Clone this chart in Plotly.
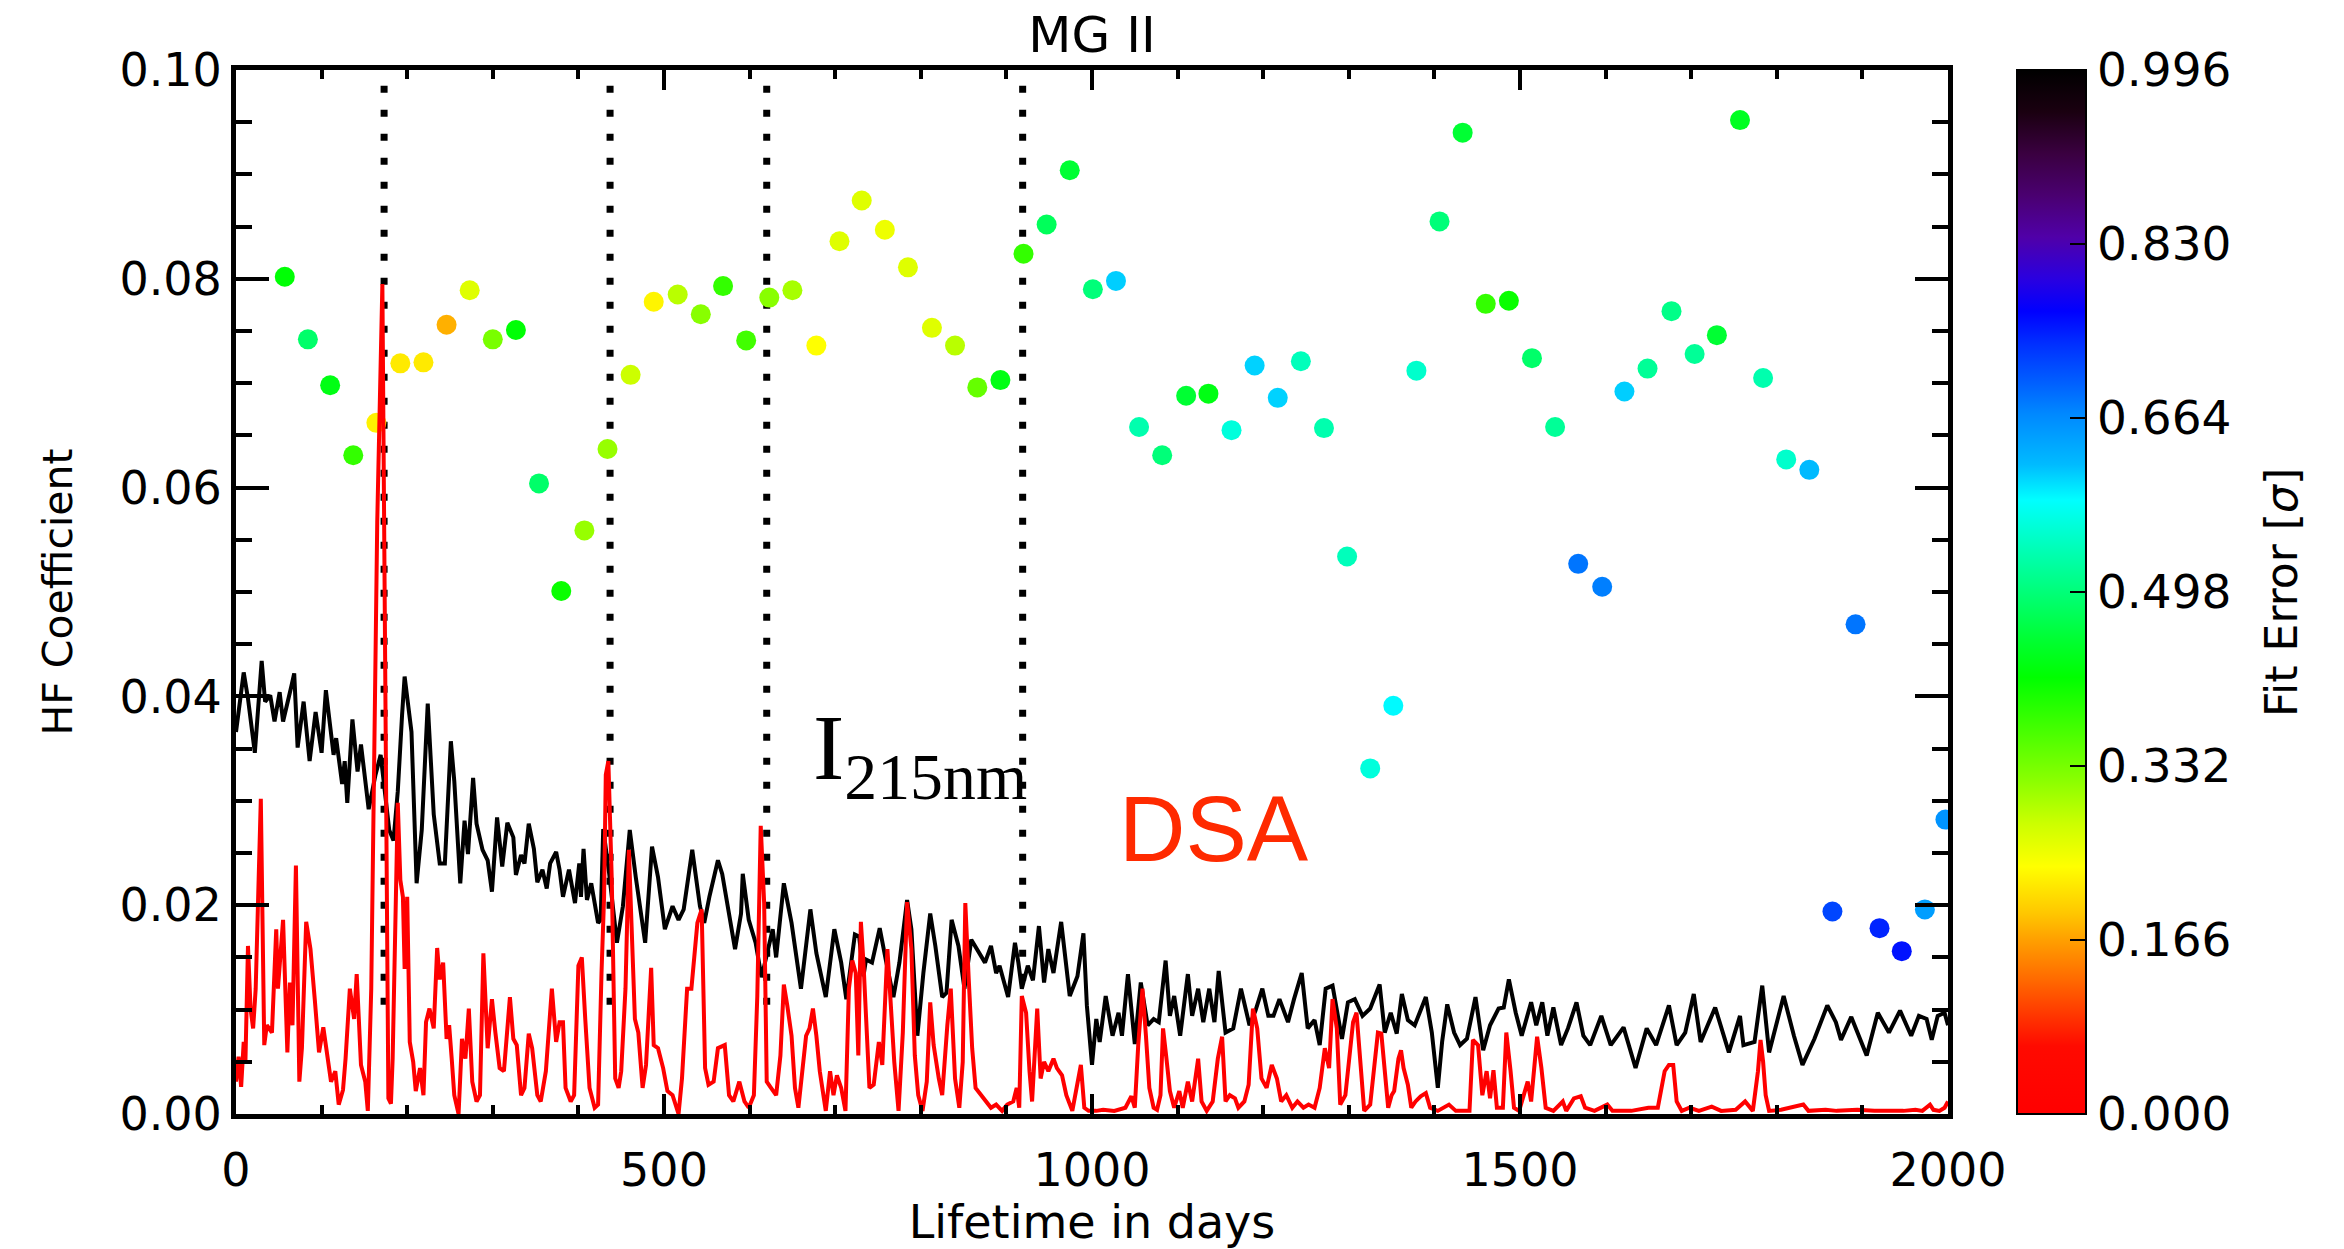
import plotly.graph_objects as go

# ---------------------------------------------------------------------------
# MG II high-frequency coefficient per solar rotation, coloured by fit error
# ---------------------------------------------------------------------------
fit_days = [57, 84, 110, 137, 164, 192, 219, 246, 273, 300, 327, 354, 380, 407,
            434, 461, 488, 516, 543, 569, 596, 623, 650, 678, 705, 731, 758, 785,
            813, 840, 866, 893, 920, 947, 974, 1001, 1028, 1055, 1082, 1110, 1136,
            1163, 1190, 1217, 1244, 1271, 1298, 1325, 1352, 1379, 1406, 1433, 1460,
            1487, 1514, 1541, 1568, 1596, 1622, 1649, 1677, 1704, 1730, 1757, 1784,
            1811, 1838, 1865, 1892, 1920, 1946, 1973, 1997]
fit_hf = [0.0802, 0.0742, 0.0698, 0.0631, 0.0662, 0.0719, 0.0720, 0.0756, 0.0789,
          0.0742, 0.0751, 0.0604, 0.0501, 0.0559, 0.0637, 0.0708, 0.0778, 0.0785,
          0.0766, 0.0793, 0.0741, 0.0782, 0.0789, 0.0736, 0.0836, 0.0875, 0.0847,
          0.0811, 0.0753, 0.0736, 0.0696, 0.0703, 0.0824, 0.0852, 0.0904, 0.0790,
          0.0798, 0.0658, 0.0631, 0.0688, 0.0690, 0.0655, 0.0717, 0.0686, 0.0721,
          0.0657, 0.0534, 0.0331, 0.0391, 0.0712, 0.0855, 0.0940, 0.0776, 0.0779,
          0.0724, 0.0658, 0.0527, 0.0505, 0.0692, 0.0714, 0.0769, 0.0728, 0.0746,
          0.0952, 0.0705, 0.0627, 0.0617, 0.0194, 0.0469, 0.0178, 0.0156, 0.0196,
          0.0282]
fit_err = [0.420, 0.488, 0.430, 0.380, 0.226, 0.219, 0.219, 0.177, 0.262, 0.330,
           0.420, 0.488, 0.410, 0.310, 0.310, 0.277, 0.228, 0.289, 0.320, 0.380,
           0.370, 0.320, 0.300, 0.236, 0.262, 0.262, 0.250, 0.262, 0.262, 0.289,
           0.344, 0.430, 0.380, 0.478, 0.453, 0.498, 0.610, 0.533, 0.498, 0.453,
           0.430, 0.563, 0.608, 0.608, 0.542, 0.533, 0.542, 0.563, 0.588, 0.553,
           0.498, 0.453, 0.380, 0.410, 0.488, 0.518, 0.682, 0.675, 0.610, 0.518,
           0.508, 0.518, 0.453, 0.440, 0.533, 0.553, 0.620, 0.717, 0.682, 0.742,
           0.754, 0.647, 0.657]

# I(215 nm) proxy, HF coefficient versus lifetime
i215_days = [0, 9, 14, 22, 30, 34, 40, 45, 51, 55, 65, 68, 72, 79, 86, 93, 100, 105,
             114, 117, 124, 127, 130, 136, 142, 146, 155, 163, 169, 179, 184, 189,
             194, 197, 205, 211, 217, 224, 231, 238, 244, 248, 251, 255, 262, 267,
             271, 277, 281, 288, 294, 299, 305, 311, 317, 324, 327, 333, 337, 342,
             348, 352, 358, 363, 367, 374, 378, 382, 389, 396, 401, 403, 406, 410,
             415, 423, 426, 429, 436, 445, 452, 460, 467, 478, 486, 493, 501, 510,
             517, 523, 533, 542, 547, 553, 563, 568, 583, 590, 592, 599, 607, 614,
             627, 631, 640, 649, 660, 671, 678, 689, 699, 707, 713, 723, 728, 733,
             736, 743, 752, 759, 768, 775, 784, 789, 796, 803, 811, 817, 825, 830,
             836, 844, 851, 859, 869, 875, 882, 888, 892, 902, 910, 914, 918, 925,
             931, 938, 944, 949, 955, 964, 974, 983, 990, 994, 1000, 1005, 1009,
             1016, 1024, 1031, 1035, 1042, 1050, 1057, 1065, 1072, 1078, 1086, 1091,
             1096, 1103, 1112, 1117, 1124, 1130, 1137, 1143, 1148, 1156, 1165, 1174,
             1184, 1191, 1199, 1206, 1212, 1219, 1229, 1236, 1245, 1252, 1260, 1266,
             1273, 1281, 1292, 1299, 1307, 1316, 1325, 1336, 1342, 1349, 1356, 1362,
             1369, 1377, 1390, 1397, 1404, 1409, 1415, 1423, 1430, 1438, 1448, 1457,
             1465, 1475, 1481, 1487, 1495, 1502, 1513, 1519, 1526, 1532, 1539, 1548,
             1556, 1566, 1574, 1582, 1595, 1606, 1621, 1635, 1648, 1659, 1674, 1683,
             1693, 1703, 1711, 1728, 1744, 1757, 1761, 1774, 1783, 1791, 1808, 1820,
             1830, 1844, 1859, 1869, 1875, 1887, 1905, 1918, 1931, 1944, 1957, 1966,
             1975, 1981, 1988, 1996, 2000]
i215_hf = [0.0366, 0.0423, 0.0398, 0.0346, 0.0434, 0.0395, 0.0401, 0.0376, 0.0404,
           0.0376, 0.0411, 0.0422, 0.0351, 0.0395, 0.0338, 0.0385, 0.0346, 0.0406,
           0.0344, 0.0360, 0.0316, 0.0338, 0.0298, 0.0378, 0.0328, 0.0354, 0.0292,
           0.0325, 0.0344, 0.0272, 0.0262, 0.0309, 0.0382, 0.0419, 0.0366, 0.0221,
           0.0272, 0.0393, 0.0287, 0.0240, 0.0240, 0.0319, 0.0357, 0.0319, 0.0221,
           0.0281, 0.0249, 0.0322, 0.0278, 0.0253, 0.0243, 0.0213, 0.0284, 0.0237,
           0.0279, 0.0265, 0.0229, 0.0248, 0.0240, 0.0278, 0.0254, 0.0222, 0.0234,
           0.0216, 0.0240, 0.0251, 0.0234, 0.0208, 0.0234, 0.0202, 0.0240, 0.0208,
           0.0254, 0.0205, 0.0221, 0.0183, 0.0186, 0.0273, 0.0230, 0.0164, 0.0199,
           0.0272, 0.0227, 0.0164, 0.0256, 0.0227, 0.0177, 0.0199, 0.0186, 0.0196,
           0.0253, 0.0199, 0.0183, 0.0208, 0.0243, 0.0230, 0.0158, 0.0192, 0.0230,
           0.0186, 0.0164, 0.0131, 0.0177, 0.0150, 0.0221, 0.0183, 0.0120, 0.0196,
           0.0154, 0.0112, 0.0177, 0.0145, 0.0110, 0.0172, 0.0170, 0.0132, 0.0148,
           0.0145, 0.0178, 0.0148, 0.0112, 0.0145, 0.0205, 0.0177, 0.0075, 0.0135,
           0.0192, 0.0161, 0.0112, 0.0116, 0.0186, 0.0161, 0.0120, 0.0167, 0.0154,
           0.0145, 0.0161, 0.0135, 0.0142, 0.0112, 0.0164, 0.0145, 0.0120, 0.0142,
           0.0128, 0.0180, 0.0126, 0.0158, 0.0135, 0.0184, 0.0113, 0.0132, 0.0173,
           0.0104, 0.0047, 0.0091, 0.0069, 0.0113, 0.0075, 0.0097, 0.0075, 0.0134,
           0.0067, 0.0126, 0.0085, 0.0091, 0.0088, 0.0147, 0.0094, 0.0113, 0.0075,
           0.0134, 0.0094, 0.0120, 0.0088, 0.0120, 0.0088, 0.0137, 0.0078, 0.0082,
           0.0120, 0.0085, 0.0099, 0.0120, 0.0094, 0.0094, 0.0110, 0.0088, 0.0110,
           0.0135, 0.0082, 0.0090, 0.0066, 0.0120, 0.0123, 0.0072, 0.0107, 0.0110,
           0.0094, 0.0101, 0.0124, 0.0078, 0.0097, 0.0077, 0.0115, 0.0090, 0.0085,
           0.0112, 0.0078, 0.0025, 0.0069, 0.0105, 0.0078, 0.0066, 0.0072, 0.0112,
           0.0061, 0.0085, 0.0101, 0.0102, 0.0129, 0.0097, 0.0075, 0.0107, 0.0085,
           0.0107, 0.0075, 0.0102, 0.0066, 0.0082, 0.0107, 0.0075, 0.0066, 0.0094,
           0.0066, 0.0083, 0.0044, 0.0082, 0.0066, 0.0104, 0.0066, 0.0078, 0.0115,
           0.0069, 0.0102, 0.0059, 0.0094, 0.0066, 0.0069, 0.0123, 0.0059, 0.0113,
           0.0075, 0.0047, 0.0072, 0.0104, 0.0088, 0.0071, 0.0093, 0.0056, 0.0097,
           0.0078, 0.0099, 0.0075, 0.0094, 0.0091, 0.0071, 0.0094, 0.0097, 0.0085]

# DSA, HF coefficient versus lifetime
dsa_days = [0, 3, 6, 9, 11, 14, 17, 20, 23, 29, 33, 36, 42, 47, 49, 55, 60, 63, 66,
            70, 74, 77, 82, 87, 92, 97, 102, 107, 111, 116, 120, 125, 128, 133, 138,
            141, 146, 151, 154, 158, 161, 165, 171, 174, 176, 178, 181, 183, 189,
            192, 195, 197, 200, 203, 207, 210, 215, 219, 222, 226, 231, 235, 238,
            242, 246, 249, 252, 255, 260, 264, 268, 272, 276, 281, 285, 289, 294,
            299, 303, 308, 313, 320, 324, 328, 333, 337, 342, 346, 352, 356, 362,
            369, 374, 378, 382, 385, 391, 395, 400, 404, 408, 413, 419, 423, 427,
            430, 432, 435, 439, 443, 447, 450, 455, 459, 462, 466, 470, 475, 479,
            485, 488, 493, 499, 504, 510, 517, 521, 527, 532, 535, 539, 544, 548,
            552, 558, 563, 571, 576, 581, 588, 594, 599, 605, 609, 613, 617, 620,
            625, 631, 636, 640, 644, 649, 653, 657, 666, 670, 674, 678, 682, 686,
            689, 694, 698, 702, 707, 712, 716, 720, 724, 727, 730, 733, 737, 740,
            745, 751, 755, 761, 765, 769, 774, 779, 784, 789, 793, 797, 802, 807,
            811, 815, 821, 825, 831, 835, 840, 845, 849, 852, 856, 860, 864, 871,
            877, 882, 888, 895, 901, 908, 912, 915, 918, 923, 927, 930, 936, 940,
            944, 949, 955, 959, 965, 970, 977, 982, 987, 991, 996, 1005, 1013,
            1026, 1039, 1046, 1050, 1054, 1059, 1063, 1067, 1072, 1076, 1080, 1083,
            1087, 1091, 1096, 1102, 1106, 1112, 1117, 1124, 1128, 1134, 1141, 1147,
            1152, 1156, 1161, 1167, 1171, 1178, 1183, 1188, 1193, 1198, 1204, 1210,
            1216, 1221, 1227, 1234, 1240, 1247, 1253, 1260, 1266, 1272, 1277, 1281,
            1286, 1290, 1296, 1301, 1305, 1309, 1314, 1318, 1325, 1330, 1334, 1338,
            1342, 1346, 1350, 1353, 1358, 1361, 1364, 1369, 1373, 1378, 1384, 1390,
            1395, 1404, 1417, 1425, 1441, 1445, 1451, 1456, 1461, 1465, 1469, 1473,
            1480, 1484, 1489, 1493, 1499, 1505, 1509, 1513, 1520, 1525, 1530, 1539,
            1550, 1554, 1563, 1571, 1576, 1587, 1602, 1608, 1630, 1650, 1661, 1669,
            1674, 1679, 1683, 1689, 1698, 1709, 1724, 1735, 1752, 1763, 1772, 1778,
            1781, 1784, 1787, 1791, 1805, 1831, 1837, 1857, 1870, 1894, 1914, 1948,
            1962, 1970, 1979, 1983, 1990, 1996, 2000]
dsa_hf = [0.0031, 0.0055, 0.0026, 0.0069, 0.0050, 0.0161, 0.0101, 0.0082, 0.0120,
          0.0302, 0.0066, 0.0085, 0.0078, 0.0177, 0.0120, 0.0186, 0.0059, 0.0126,
          0.0085, 0.0238, 0.0031, 0.0063, 0.0184, 0.0158, 0.0110, 0.0059, 0.0083,
          0.0050, 0.0031, 0.0041, 0.0009, 0.0023, 0.0053, 0.0120, 0.0091, 0.0134,
          0.0047, 0.0031, 0.0003, 0.0120, 0.0300, 0.0567, 0.0795, 0.0450, 0.0120,
          0.0015, 0.0010, 0.0053, 0.0298, 0.0224, 0.0208, 0.0139, 0.0208, 0.0069,
          0.0050, 0.0022, 0.0044, 0.0018, 0.0088, 0.0101, 0.0082, 0.0159, 0.0129,
          0.0145, 0.0072, 0.0085, 0.0053, 0.0018, 0.0000, 0.0072, 0.0053, 0.0101,
          0.0031, 0.0012, 0.0018, 0.0154, 0.0063, 0.0110, 0.0078, 0.0044, 0.0041,
          0.0112, 0.0072, 0.0066, 0.0018, 0.0025, 0.0077, 0.0063, 0.0018, 0.0012,
          0.0041, 0.0120, 0.0069, 0.0088, 0.0088, 0.0025, 0.0012, 0.0018, 0.0142,
          0.0150, 0.0091, 0.0025, 0.0006, 0.0009, 0.0135, 0.0208, 0.0325, 0.0338,
          0.0224, 0.0034, 0.0025, 0.0041, 0.0120, 0.0253, 0.0183, 0.0091, 0.0078,
          0.0025, 0.0047, 0.0140, 0.0066, 0.0063, 0.0044, 0.0022, 0.0018, 0.0000,
          0.0034, 0.0120, 0.0120, 0.0151, 0.0183, 0.0196, 0.0044, 0.0028, 0.0031,
          0.0063, 0.0066, 0.0018, 0.0012, 0.0031, 0.0012, 0.0006, 0.0018, 0.0113,
          0.0276, 0.0202, 0.0031, 0.0025, 0.0018, 0.0056, 0.0124, 0.0104, 0.0075,
          0.0025, 0.0006, 0.0075, 0.0082, 0.0101, 0.0075, 0.0041, 0.0015, 0.0003,
          0.0041, 0.0018, 0.0037, 0.0025, 0.0003, 0.0120, 0.0147, 0.0135, 0.0056,
          0.0184, 0.0145, 0.0069, 0.0025, 0.0028, 0.0069, 0.0047, 0.0158, 0.0104,
          0.0050, 0.0003, 0.0078, 0.0203, 0.0158, 0.0056, 0.0018, 0.0003, 0.0031,
          0.0107, 0.0066, 0.0034, 0.0018, 0.0085, 0.0120, 0.0034, 0.0006, 0.0050,
          0.0202, 0.0129, 0.0063, 0.0025, 0.0018, 0.0012, 0.0006, 0.0009, 0.0003,
          0.0009, 0.0012, 0.0025, 0.0006, 0.0113, 0.0097, 0.0041, 0.0012, 0.0101,
          0.0034, 0.0050, 0.0041, 0.0053, 0.0044, 0.0037, 0.0018, 0.0003, 0.0025,
          0.0047, 0.0006, 0.0003, 0.0003, 0.0004, 0.0003, 0.0006, 0.0017, 0.0006,
          0.0066, 0.0120, 0.0075, 0.0025, 0.0006, 0.0004, 0.0018, 0.0082, 0.0053,
          0.0022, 0.0006, 0.0022, 0.0006, 0.0031, 0.0012, 0.0053, 0.0012, 0.0003,
          0.0012, 0.0053, 0.0074, 0.0012, 0.0018, 0.0015, 0.0006, 0.0012, 0.0028,
          0.0101, 0.0082, 0.0034, 0.0025, 0.0047, 0.0034, 0.0012, 0.0018, 0.0006,
          0.0012, 0.0006, 0.0009, 0.0006, 0.0025, 0.0063, 0.0044, 0.0110, 0.0082,
          0.0009, 0.0018, 0.0056, 0.0088, 0.0097, 0.0050, 0.0003, 0.0009, 0.0050,
          0.0078, 0.0077, 0.0041, 0.0006, 0.0018, 0.0022, 0.0053, 0.0061, 0.0044,
          0.0028, 0.0006, 0.0012, 0.0017, 0.0020, 0.0006, 0.0003, 0.0009, 0.0003,
          0.0003, 0.0071, 0.0066, 0.0018, 0.0041, 0.0015, 0.0042, 0.0006, 0.0006,
          0.0078, 0.0041, 0.0006, 0.0003, 0.0018, 0.0031, 0.0012, 0.0074, 0.0044,
          0.0006, 0.0003, 0.0012, 0.0003, 0.0015, 0.0017, 0.0006, 0.0003, 0.0009,
          0.0003, 0.0003, 0.0006, 0.0006, 0.0041, 0.0047, 0.0047, 0.0012, 0.0003,
          0.0006, 0.0003, 0.0007, 0.0003, 0.0004, 0.0012, 0.0003, 0.0041, 0.0071,
          0.0050, 0.0018, 0.0003, 0.0004, 0.0009, 0.0003, 0.0004, 0.0003, 0.0004,
          0.0003, 0.0003, 0.0004, 0.0003, 0.0009, 0.0004, 0.0003, 0.0006, 0.0012]

# Reference epochs marked by dotted verticals
event_days = [173, 437, 620, 919]
event_hf_top = [0.0985, 0.0985, 0.0985, 0.0985]
event_hf_bottom = [0.0094, 0.0094, 0.0094, 0.0117]

# Colour bar ticks (labelled) and the half-steps between them
err_ticks = [0.000, 0.166, 0.332, 0.498, 0.664, 0.830, 0.996]
err_minor = [0.083, 0.249, 0.415, 0.581, 0.747, 0.913]
ERR_MAX = 0.996

FONT = "DejaVu Sans"
TXT = dict(family=FONT, color="black")

# reversed rainbow: red -> yellow -> green -> cyan -> blue -> purple -> black
rainbow_r = [
    [0.000, "#ff0000"], [0.065, "#ff0a00"], [0.097, "#ff3a00"],
    [0.129, "#ff6a00"], [0.167, "#ffa000"], [0.193, "#ffc800"],
    [0.237, "#ffff00"], [0.278, "#ccff00"], [0.321, "#88ff00"],
    [0.369, "#44ff00"], [0.418, "#00ff00"], [0.455, "#00ff33"],
    [0.499, "#00ff77"], [0.544, "#00ffbb"], [0.588, "#00ffff"],
    [0.622, "#00bbff"], [0.671, "#0088ff"], [0.700, "#0060ff"],
    [0.737, "#0030ff"], [0.769, "#0000ff"], [0.800, "#2a00e0"],
    [0.840, "#5000a8"], [0.880, "#4a0070"], [0.920, "#3a0040"],
    [0.960, "#1a0010"], [1.000, "#000000"],
]

# colour bar geometry (paper units of the plot area)
CB_X = 1.0403
CB_THICK = 69
PLOT_W = 1712

fig = go.Figure()

for d, top, bot in zip(event_days, event_hf_top, event_hf_bottom):
    fig.add_trace(go.Scatter(
        x=[d, d], y=[top, bot], mode="lines",
        line=dict(color="black", width=7, dash="7px,17px"),
        hoverinfo="skip", showlegend=False))

fig.add_trace(go.Scatter(
    x=fit_days, y=fit_hf, mode="markers",
    marker=dict(
        size=20, color=fit_err, cmin=0.0, cmax=ERR_MAX,
        colorscale=rainbow_r, line=dict(width=0),
        colorbar=dict(
            x=CB_X, xanchor="left", y=0.5, yanchor="middle",
            len=1.0, lenmode="fraction", thickness=CB_THICK, thicknessmode="pixels",
            xpad=0, ypad=0, outlinewidth=2, outlinecolor="black",
            tickvals=err_ticks, ticktext=[f"{v:.3f}" for v in err_ticks],
            ticks="inside", ticklen=17, tickwidth=1.5, tickcolor="black",
            tickfont=dict(size=47, **TXT),
        ),
    ),
    showlegend=False))

fig.add_trace(go.Scatter(
    x=i215_days, y=i215_hf, mode="lines",
    line=dict(color="black", width=4), showlegend=False))

fig.add_trace(go.Scatter(
    x=dsa_days, y=dsa_hf, mode="lines",
    line=dict(color="#ff0000", width=4), showlegend=False))

# short half-step ticks on the colour bar
cb_right = CB_X + CB_THICK / PLOT_W
for v in err_minor:
    fig.add_shape(type="line", xref="paper", yref="paper",
                  x0=cb_right, x1=cb_right - 8 / PLOT_W,
                  y0=v / ERR_MAX, y1=v / ERR_MAX,
                  line=dict(color="black", width=1.5))

axis_common = dict(
    showline=True, linewidth=5, linecolor="black", mirror="ticks",
    ticks="inside", tickcolor="black", tickwidth=4,
    showgrid=False, zeroline=False,
    tickfont=dict(size=46, **TXT),
)

fig.update_xaxes(
    range=[0, 2000], tickvals=[0, 500, 1000, 1500, 2000], ticklen=20,
    minor=dict(dtick=100, ticks="inside", ticklen=9, tickwidth=4, tickcolor="black"),
    ticklabelstandoff=12,
    title=dict(text="Lifetime in days", standoff=8, font=dict(size=46, **TXT)),
    **axis_common)

fig.update_yaxes(
    range=[0, 0.1], tickvals=[0, 0.02, 0.04, 0.06, 0.08, 0.10], tickformat=".2f",
    ticklen=33,
    minor=dict(dtick=0.005, ticks="inside", ticklen=16, tickwidth=4, tickcolor="black"),
    ticklabelstandoff=0,
    title=dict(text="HF Coefficient", standoff=36, font=dict(size=41, **TXT)),
    **axis_common)

fig.add_annotation(
    x=672, y=0.0345, xref="x", yref="y", xanchor="left", yanchor="middle",
    text="I<sub>215nm</sub>", showarrow=False,
    font=dict(family="Liberation Serif", size=94, color="black"))

fig.add_annotation(
    x=1142, y=0.0273, xref="x", yref="y", xanchor="center", yanchor="middle",
    text="DSA", showarrow=False,
    font=dict(family="Liberation Sans", size=92, color="#ff2a00"))

# colour bar title
fig.add_annotation(
    x=1.1945, y=0.5, xref="paper", yref="paper", xanchor="center", yanchor="middle",
    text="Fit Error [<i>σ</i>]", textangle=-90, showarrow=False,
    font=dict(size=44, **TXT))

fig.update_layout(
    width=2344, height=1249,
    margin=dict(l=236, r=396, t=70, b=123, pad=0),
    paper_bgcolor="white", plot_bgcolor="white",
    title=dict(text="MG II", x=0.5, xref="paper", xanchor="center",
               y=1.0, yref="paper", yanchor="bottom", pad=dict(b=18),
               font=dict(size=50, **TXT)),
    font=dict(family=FONT, color="black"),
)

fig.write_html("out.html")
